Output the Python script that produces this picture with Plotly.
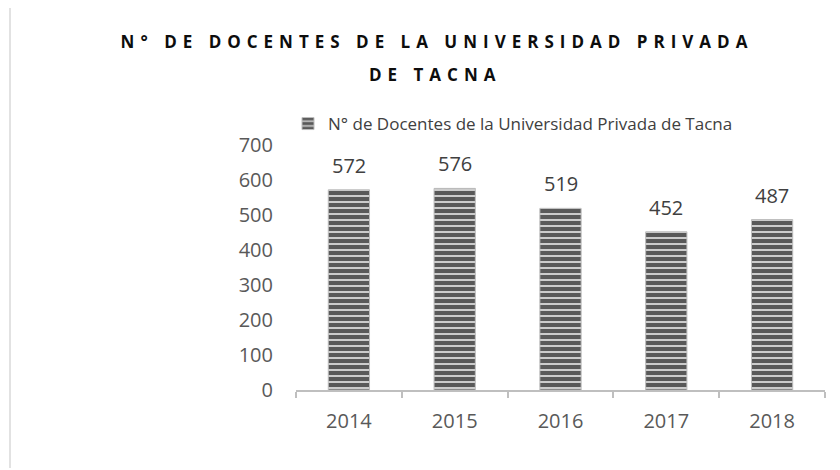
import plotly.graph_objects as go

years = ["2014", "2015", "2016", "2017", "2018"]
docentes = [572, 576, 519, 452, 487]
series_name = "N° de Docentes de la Universidad Privada de Tacna"
title_line1 = "N° DE DOCENTES DE LA UNIVERSIDAD PRIVADA"
title_line2 = "DE TACNA"
y_ticks = [0, 100, 200, 300, 400, 500, 600, 700]

FONT = "Open Sans"
W, H = 840, 470
L, R, T, B = 288, 23, 137, 88
pw = W - L - R
ph = H - T - B

fig = go.Figure()
fig.add_trace(go.Bar(
    x=years, y=docentes, name=series_name,
    width=0.39,
    marker=dict(
        color="#595959",
        line=dict(color="#bdbdbd", width=1),
        pattern=dict(shape="-", bgcolor="#595959", fgcolor="#d9d9d9",
                     size=6, solidity=0.3, fillmode="replace"),
    ),
    showlegend=True,
))

annotations = [
    dict(x=i, y=v, xref="x", yref="y", text=str(v), showarrow=False,
         yanchor="bottom", yshift=9,
         font=dict(family=FONT, size=20, color="#404040"))
    for i, v in enumerate(docentes)
]

sp = "letter-spacing:6px"
# second line of the title, placed with the wider line gap of the reference
annotations.append(dict(
    x=(427 - L) / pw, y=(H - B - 67) / ph, xref="paper", yref="paper",
    xanchor="center", yanchor="middle", showarrow=False,
    text=f'<b><span style="{sp}">{title_line2}</span></b>',
    font=dict(family=FONT, size=17, color="#0d0d0d"),
))

fig.update_layout(
    width=W, height=H,
    margin=dict(l=L, r=R, t=T, b=B, autoexpand=False),
    paper_bgcolor="white", plot_bgcolor="white",
    font=dict(family=FONT, color="#595959"),
    title=dict(
        text=f'<b><span style="{sp}">{title_line1}</span></b>',
        x=429 / W, xanchor="center", xref="container",
        y=1 - 28 / H, yanchor="top", yref="container",
        font=dict(family=FONT, size=17, color="#0d0d0d"),
    ),
    legend=dict(
        orientation="h", x=(280 - L) / pw, xanchor="left",
        y=1 + 39 / ph, yanchor="top",
        font=dict(family=FONT, size=17, color="#404040"),
        itemwidth=30, bgcolor="rgba(0,0,0,0)",
    ),
    bargap=0.61,
    xaxis=dict(
        type="category", categoryorder="array", categoryarray=years,
        range=[-0.5, len(years) - 0.5],
        showline=True, linecolor="#bfbfbf", linewidth=2,
        ticks="outside", tickson="boundaries", ticklen=6, tickwidth=2,
        tickcolor="#bfbfbf", showgrid=False,
        tickfont=dict(family=FONT, size=20, color="#595959"),
        ticklabelstandoff=12,
    ),
    yaxis=dict(
        range=[0, 700], tickvals=y_ticks, showgrid=False, showline=False,
        zeroline=False, ticks="",
        tickfont=dict(family=FONT, size=20, color="#595959"),
        ticklabelstandoff=22,
    ),
    annotations=annotations,
    shapes=[dict(
        type="line", xref="paper", yref="paper",
        x0=(2 - L) / pw, x1=(2 - L) / pw,
        y0=(H - B - 460) / ph, y1=(H - B - 0) / ph,
        line=dict(color="#d9d9d9", width=1.5),
    )],
)

fig.write_html("out.html")
